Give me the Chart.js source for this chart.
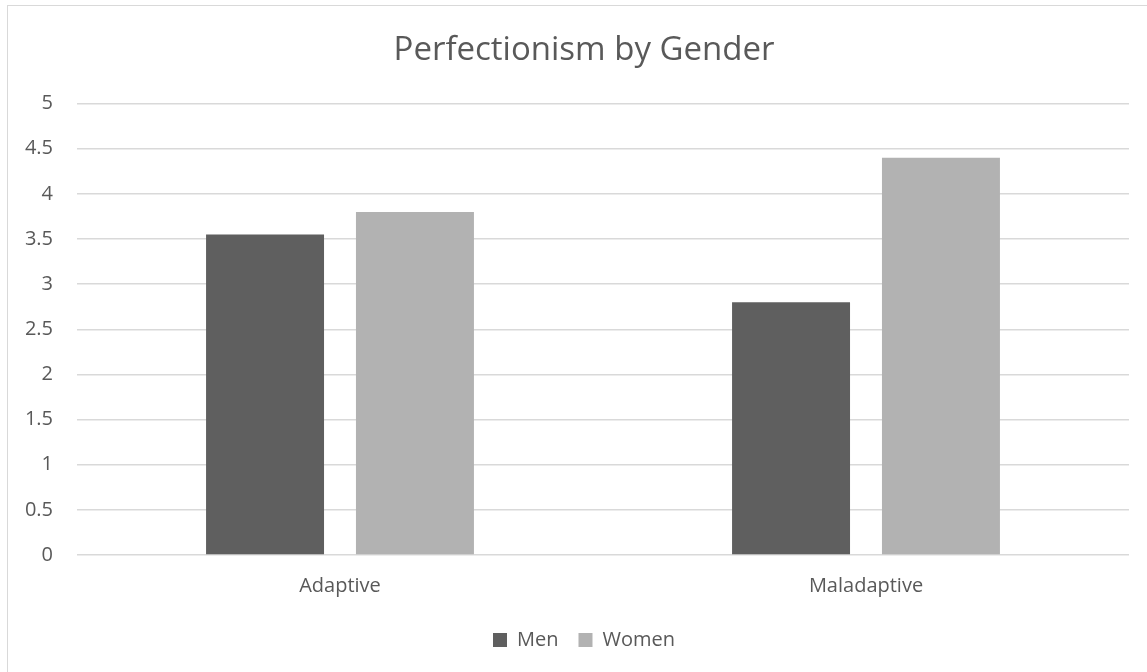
<!DOCTYPE html>
<html>
<head>
<meta charset="utf-8">
<script src="https://cdn.jsdelivr.net/npm/chart.js@4.4.1/dist/chart.umd.min.js"></script>
<style>
  html, body { margin: 0; padding: 0; background: #fff; }
  #wrap { position: relative; width: 1147px; height: 672px; overflow: hidden; }
  #frame { position: absolute; left: 7px; top: 5px; width: 1160px; height: 700px; border: 1px solid #d9d9d9; box-sizing: border-box; }
  canvas { position: absolute; left: 0; top: 0; }
</style>
</head>
<body>
<div id="wrap">
  <div id="frame"></div>
  <canvas id="genderChart" width="1168" height="672"></canvas>
</div>
<script>
// Perfectionism scores by gender
const categories = ["Adaptive", "Maladaptive"];
const menScores = [3.55, 2.8];
const womenScores = [3.8, 4.4];
const yTicks = [0, 0.5, 1, 1.5, 2, 2.5, 3, 3.5, 4, 4.5, 5];

const textColor = "#595959";
const fontFamily = "'Open Sans', 'Noto Sans', sans-serif";

new Chart(document.getElementById("genderChart"), {
  type: "bar",
  data: {
    labels: categories,
    datasets: [
      { label: "Men", data: menScores, backgroundColor: "#5f5f5f" },
      { label: "Women", data: womenScores, backgroundColor: "#b2b2b2" }
    ]
  },
  options: {
    responsive: false,
    animation: false,
    categoryPercentage: 0.57,
    barPercentage: 0.787,
    layout: { padding: { left: 0, right: 0, top: 0, bottom: 12 } },
    plugins: {
      title: {
        display: true,
        text: "Perfectionism by Gender",
        color: textColor,
        font: { family: fontFamily, size: 33, weight: "normal" },
        padding: { top: 31, bottom: 33 }
      },
      legend: {
        position: "bottom",
        labels: {
          color: textColor,
          font: { family: fontFamily, size: 20 },
          boxWidth: 14,
          boxHeight: 14,
          padding: 20
        }
      },
      tooltip: { enabled: false }
    },
    scales: {
      x: {
        grid: { display: false, drawTicks: false },
        border: { display: false },
        ticks: { color: textColor, font: { family: fontFamily, size: 20 }, padding: 19 },
        afterFit: s => { s.height = 55; }
      },
      y: {
        min: 0,
        max: 5,
        afterBuildTicks: s => { s.ticks = yTicks.map(v => ({ value: v })); },
        grid: { color: "#d9d9d9", lineWidth: 1.5, drawTicks: false },
        border: { display: false },
        ticks: {
          color: textColor,
          font: { family: fontFamily, size: 20 },
          padding: 24,
          callback: v => String(v)
        },
        afterFit: s => { s.width = 77; }
      },
      // empty right-hand spacer so the plot ends where the reference does
      spacer: {
        type: "linear",
        position: "right",
        grid: { display: false },
        border: { display: false },
        ticks: { display: false },
        afterFit: s => { s.width = 39; }
      }
    }
  }
});
</script>
</body>
</html>
